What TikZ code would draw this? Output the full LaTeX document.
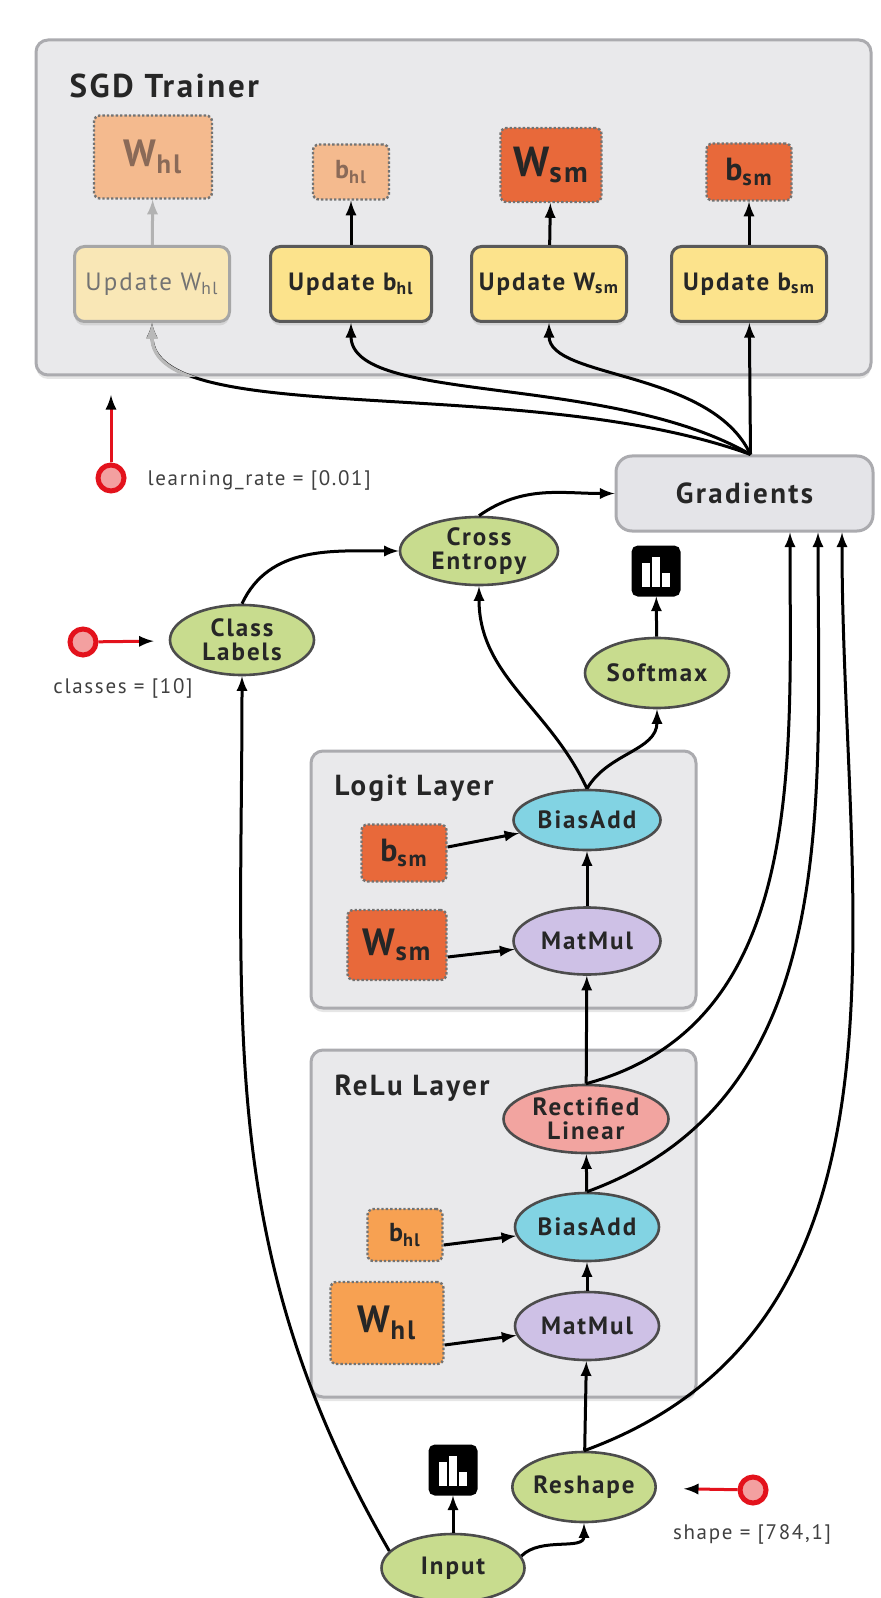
\documentclass[tikz,border=0pt]{standalone}
\usepackage{fontspec}
\setmainfont{PT Sans}[LetterSpace=8]
\usepackage{tikz}
\usetikzlibrary{arrows,calc,shapes,shadows}

\definecolor{panel}{HTML}{E9E9EB}
\definecolor{panelline}{HTML}{ABABAF}
\definecolor{gradfill}{HTML}{E4E4E8}
\definecolor{opgreen}{HTML}{C8DC8E}
\definecolor{opblue}{HTML}{82D3E3}
\definecolor{oplilac}{HTML}{CEC1E6}
\definecolor{oppink}{HTML}{F2A4A0}
\definecolor{varsm}{HTML}{E8693A}
\definecolor{varhl}{HTML}{F7A152}
\definecolor{varfade}{HTML}{F4BA8E}
\definecolor{fadetext}{HTML}{8A6A58}
\definecolor{updfill}{HTML}{FCE38C}
\definecolor{updfade}{HTML}{F9E7B6}
\definecolor{paramred}{HTML}{E3121C}
\definecolor{parampink}{HTML}{F3A0A0}

\begin{document}
\begin{tikzpicture}[x=0.5pt, y=-0.5pt, >=latex, line width=1.5pt,
  every node/.style={font=\bfseries\fontsize{13}{14}\selectfont, text=black!85},
  panel/.style={draw=panelline, fill=panel, line width=1.5pt, rounded corners=6pt,
    drop shadow={opacity=0.2, shadow xshift=0pt, shadow yshift=-2pt}},
  title/.style={anchor=base west, inner sep=0pt, font=\bfseries\fontsize{14.5}{16}\selectfont},
  op/.style={ellipse, draw=black!70, line width=1.3pt, inner sep=0pt, align=center,
    minimum width=72pt, minimum height=34pt, font=\bfseries\fontsize{12.5}{12}\selectfont},
  var/.style={draw=black!55, densely dotted, line width=1.2pt, rounded corners=3pt, inner sep=0pt},
  upd/.style={draw=black!65, fill=updfill, line width=1.5pt, rounded corners=5pt,
    minimum width=77.5pt, minimum height=37.5pt, inner sep=0pt, font=\bfseries\fontsize{12.5}{13}\selectfont,
    drop shadow={opacity=0.2, shadow xshift=0pt, shadow yshift=-2pt}},
  hist/.style={fill=black, draw=black, rounded corners=2.5pt, minimum width=23pt, minimum height=24pt, inner sep=0pt,
    path picture={
      \fill[white, sharp corners] ($(path picture bounding box.south west)+(4.5pt,4pt)$) rectangle +(4pt,12pt);
      \fill[white, sharp corners] ($(path picture bounding box.south west)+(9.5pt,4pt)$) rectangle +(4pt,15pt);
      \fill[white, sharp corners] ($(path picture bounding box.south west)+(14.5pt,4pt)$) rectangle +(4pt,7pt);}},
  param/.style={circle, draw=paramred, fill=parampink, line width=2.5pt, minimum size=13pt, inner sep=0pt},
  plabel/.style={inner sep=0pt, font=\fontsize{10.5}{11}\selectfont, text=black!75},
  feed/.style={->, draw=paramred, line width=1.5pt},
]
\useasboundingbox (0,0) rectangle (880,1598);

\node[panel, minimum width=417.5pt, minimum height=167.5pt] (sgd) at (453.5,207.5) {};
\node[title, font=\bfseries\fontsize{16.5}{18}\selectfont] at (68,98) {SGD Trainer};
\node[panel, minimum width=192.5pt, minimum height=128.5pt] (logit) at (503.5,879.5) {};
\node[title] at (333,795) {Logit Layer};
\node[panel, minimum width=192.5pt, minimum height=173.5pt] (relu) at (503.5,1223.5) {};
\node[title] at (333,1095) {ReLu Layer};

\node[var, fill=varfade, text=fadetext, minimum width=59pt, minimum height=41.5pt,
  font=\bfseries\fontsize{19}{19}\selectfont] (twh) at (153,157) {W\textsubscript{hl}};
\node[var, fill=varfade, text=fadetext, minimum width=38pt, minimum height=27.5pt,
  font=\bfseries\fontsize{13}{13}\selectfont] (tbh) at (351,172) {b\textsubscript{hl}};
\node[var, fill=varsm, minimum width=50.5pt, minimum height=37pt,
  font=\bfseries\fontsize{21}{21}\selectfont] (tws) at (551,165) {W\textsubscript{sm}};
\node[var, fill=varsm, minimum width=42.5pt, minimum height=28.5pt,
  font=\bfseries\fontsize{16}{16}\selectfont] (tbs) at (749,172) {b\textsubscript{sm}};

\node[upd, fill=updfade, draw=black!35, text=black!55, font=\fontsize{12.5}{13}\selectfont] (uwh) at (152,284) {Update W\textsubscript{hl}};
\node[upd, minimum width=80.5pt] (ubh) at (351,284) {Update b\textsubscript{hl}};
\node[upd] (uws) at (549,284) {Update W\textsubscript{sm}};
\node[upd] (ubs) at (749,284) {Update b\textsubscript{sm}};

\node[draw=panelline, fill=gradfill, line width=1.5pt, rounded corners=8pt, minimum width=128.5pt,
  minimum height=37.5pt, font=\bfseries\fontsize{14.5}{15}\selectfont] (grad) at (744.5,493.5) {Gradients};
\coordinate (gtop) at ([xshift=3pt]grad.north);
\coordinate (g1) at ([xshift=22.75pt]grad.south);
\coordinate (g2) at ([xshift=36.75pt]grad.south);
\coordinate (g3) at ([xshift=48.75pt]grad.south);

\node[op, fill=opgreen, minimum width=79pt] (cel) at (479,551) {Cross\\Entropy};
\node[op, fill=opgreen, minimum width=72pt, minimum height=35pt] (cls) at (242,640) {Class\\Labels};
\node[hist] (hsm) at (656,571) {};
\node[op, fill=opgreen, minimum height=35pt] (smx) at (657,673) {Softmax};

\node[op, fill=opblue, minimum width=73.5pt, minimum height=30pt] (lba) at (587,820) {BiasAdd};
\node[op, fill=oplilac, minimum width=73.5pt, minimum height=33.5pt] (lmm) at (587,941) {MatMul};
\node[var, fill=varsm, minimum width=42.5pt, minimum height=28.5pt,
  font=\bfseries\fontsize{16}{16}\selectfont] (lb) at (404,853) {b\textsubscript{sm}};
\node[var, fill=varsm, minimum width=49.5pt, minimum height=35pt,
  font=\bfseries\fontsize{19}{19}\selectfont] (lw) at (397,945) {W\textsubscript{sm}};

\node[op, fill=oppink, minimum width=82.5pt] (rl) at (586,1119) {Rectified\\Linear};
\node[op, fill=opblue] (rba) at (587,1227) {BiasAdd};
\node[op, fill=oplilac] (rmm) at (587,1326) {MatMul};
\node[var, fill=varhl, minimum width=37.5pt, minimum height=26pt,
  font=\bfseries\fontsize{13}{13}\selectfont] (rb) at (405,1235) {b\textsubscript{hl}};
\node[var, fill=varhl, minimum width=56.5pt, minimum height=41pt,
  font=\bfseries\fontsize{19}{19}\selectfont] (rw) at (387,1323) {W\textsubscript{hl}};

\node[op, fill=opgreen, minimum width=71.5pt, minimum height=35pt] (rsh) at (584,1487) {Reshape};
\node[hist] (hin) at (453,1470) {};
\node[op, fill=opgreen, minimum width=71.5pt] (inp) at (453,1568) {Input};

\node[param] (lrp) at (111,478) {};
\coordinate (lrend) at (111,395);
\node[plabel, anchor=west] (lrl) at (146,480) {learning\_rate = [0.01]};
\node[param] (clp) at (83,642) {};
\node[plabel] (cll) at (123,688) {classes = [10]};
\node[param] (shp) at (753,1490) {};
\node[plabel] (shl) at (752,1534) {shape = [784,1]};

\path[feed]
  (lrp) edge (lrend)
  (clp) edge[shorten >=7.5pt] (cls)
  (shp) edge[shorten >=13.5pt] (rsh);

\draw[->] (gtop) to[out=160, in=-90, in looseness=0.45] (uwh);
\begin{scope}
  \clip (sgd.south west) rectangle (sgd.north east);
  \draw[->, gray!55, line width=1.7pt] (gtop) to[out=160, in=-90, in looseness=0.45] (uwh);
\end{scope}

\path[->]
  (uwh) edge[gray!60] (twh)
  (ubh) edge (tbh)
  (uws) edge (tws)
  (ubs) edge (tbs)
  (gtop) edge (ubs)
         edge[out=115, in=-90, in looseness=0.6] (uws)
         edge[out=150, in=-90, in looseness=0.5] (ubh)
  (cls.north) edge[out=65, in=180] (cel)
  (cel.north) edge[out=35, in=180] (grad)
  (lba.north) edge[out=115, in=-90] (cel)
              edge[out=60, in=-90] (smx)
  (smx) edge (hsm)
  ([yshift=3pt]lb.east) edge (lba)
  ([yshift=-6pt]lw.east) edge (lmm)
  (lmm) edge (lba)
  (rl) edge (lmm)
  (rl.north) edge[out=15, in=-90] (g1)
  ([yshift=-5pt]rb.east) edge (rba)
  ([yshift=-11pt]rw.east) edge (rmm)
  (rmm) edge (rba)
  (rba) edge (rl)
  (rba.north) edge[out=20, in=-90] (g2)
  (rsh) edge (rmm)
  (rsh.north) edge[out=20, in=-90] (g3)
  (inp) edge (hin)
  (inp.10) edge[out=45, in=-90] (rsh)
  (inp.165) edge[out=120, in=-90] (cls);
\end{tikzpicture}
\end{document}
